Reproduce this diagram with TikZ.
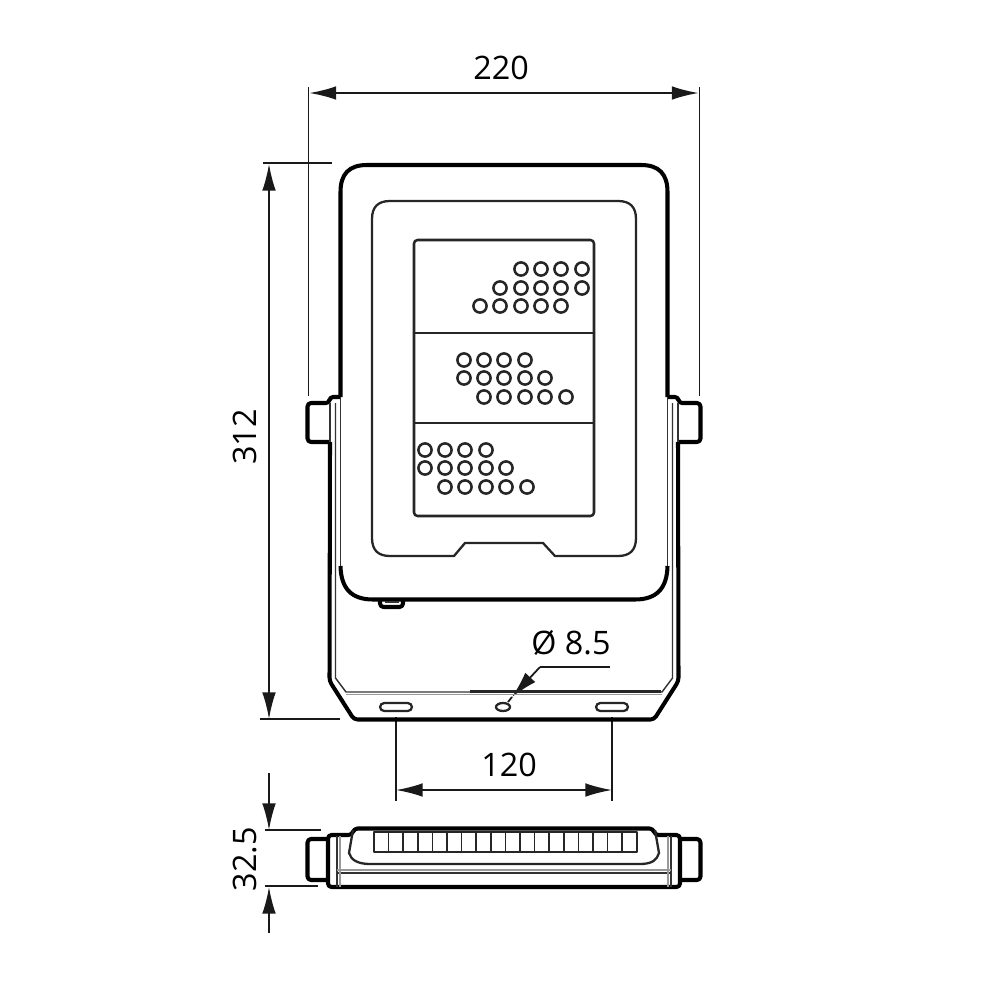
\documentclass[tikz,border=0pt]{standalone}
\usepackage{fontspec}
\setmainfont{Open Sans}
\usetikzlibrary{arrows.meta}
\tikzset{>={Latex[length=7.6pt,width=3.9pt]}}
\tikzset{
    heavy/.style={line width=1.15pt,line join=round,rounded corners=1pt},
    medium/.style={line width=0.65pt,draw=black!85,line join=round},
    fine/.style={line width=0.4pt,draw=black!80},
    dim/.style={line width=0.5pt,draw=black!90},
    led/.style={line width=0.72pt,draw=black!85,fill=white},
    dimtext/.style={font=\fontsize{9.2}{11}\selectfont,inner sep=0pt}
}
\begin{document}
\begin{tikzpicture}[x=0.01cm,y=-0.01cm]
    \useasboundingbox (0,0) rectangle (1000,1000);
    % dimension anchors
    \coordinate (wl) at (309.5,93);
    \coordinate (wr) at (698.5,93);
    \coordinate (wlt) at (308.5,87);
    \coordinate (wrt) at (699.5,87);
    \coordinate (wlb) at (308.5,396);
    \coordinate (wrb) at (699.5,396);
    \coordinate (ht) at (269,164);
    \coordinate (hb) at (269,719);
    \coordinate (htl) at (263,163);
    \coordinate (htr) at (332,163);
    \coordinate (hbl) at (260,719);
    \coordinate (hbr) at (340,719);
    \coordinate (sl) at (396,790);
    \coordinate (sr) at (612,790);
    \coordinate (slt) at (396,717);
    \coordinate (srt) at (612,717);
    \coordinate (slb) at (396,801);
    \coordinate (srb) at (612,801);
    \coordinate (dt) at (269,830);
    \coordinate (db) at (269,887);
    \coordinate (dts) at (269,773);
    \coordinate (dbs) at (269,933);
    \coordinate (dtl) at (265,830);
    \coordinate (dtr) at (321,830);
    \coordinate (dbl) at (265,886);
    \coordinate (dbr) at (318,886);
    \coordinate (lead) at (610,667);
    \coordinate (leadk) at (540,667);
    \coordinate (leadt) at (512,697);
    \coordinate (leade) at (508,702);

    \node[dimtext] (width) at (501,68) {220};
    \node[dimtext,rotate=90] (height) at (245,437) {312};
    \node[dimtext] (spacing) at (509,765) {120};
    \node[dimtext,rotate=90] (depth) at (245,859) {32.5};
    \node[dimtext] (bore) at (571,643) {Ø 8.5};

    \draw[dim] (wlt) -- (wlb);
    \draw[dim] (wrt) -- (wrb);
    \draw[dim] (htl) -- (htr);
    \draw[dim] (hbl) -- (hbr);
    \draw[dim] (slt) -- (slb);
    \draw[dim] (srt) -- (srb);
    \draw[dim] (dtl) -- (dtr);
    \draw[dim] (dbl) -- (dbr);
    \draw[dim,<->] (wl) -- (wr);
    \draw[dim,<->] (ht) -- (hb);
    \draw[dim,<->] (sl) -- (sr);
    \draw[dim,->] (dts) -- (dt);
    \draw[dim,->] (dbs) -- (db);
    \draw[dim] (lead) -- (leadk);
    \draw[dim,->] (leadk) -- (leadt);
    \draw[dim] (leadt) -- (leade);

    % front view, bracket
    \draw[heavy] (340.5,397) -- (329.5,397) -- (329.5,403) -- (307.5,403) -- (307.5,442) -- (330,442)
        (330,442) -- (329.5,681) -- (354,719.5) -- (654,719.5) -- (678.5,681) -- (678,442)
        (678,442) -- (700.5,442) -- (700.5,403) -- (678.5,403) -- (678.5,397) -- (667.5,397);
    \draw[fine] (335.5,403) -- (335.5,678) -- (346,692) -- (662,692) -- (672.5,678) -- (672.5,403);
    \draw[fine,draw=black!40] (346,694.5) -- (662,694.5);
    \draw[medium] (470,691.5) -- (661,691.5);
    \draw[fine] (330,403) -- (330,442) (678,403) -- (678,442);
    % front view, housing
    \draw[heavy,rounded corners=0pt]
        (340.5,397) -- (340.5,192) .. controls (340.5,174) and (349,165) .. (367,165)
        -- (641,165) .. controls (659,165) and (667.5,174) .. (667.5,192) -- (667.5,397);
    \draw[fine] (340.5,397) -- (340.5,566) (667.5,397) -- (667.5,566);
    \draw[heavy,rounded corners=0pt]
        (340.5,566) .. controls (341,588) and (351,599.5) .. (373,599.5) -- (635,599.5)
        .. controls (657,599.5) and (667,588) .. (667.5,566);
    \draw[heavy] (380,600) -- (380,607) -- (403,607) -- (403,600);
    \draw[fine] (385,602) -- (399,602);
    % front view, glass and optics
    \draw[medium] (390,201) -- (618,201) .. controls (630,201) and (636,207) .. (636,219) -- (636,538)
        .. controls (636,550) and (630,556) .. (618,556) -- (555,556) -- (543,543) -- (465,543)
        -- (454,556) -- (390,556) .. controls (378,556) and (372,550) .. (372,538) -- (372,219)
        .. controls (372,207) and (378,201) .. (390,201) -- cycle;
    \draw[medium,rounded corners=1pt,line width=0.72pt] (414,240) rectangle (594,516);
    \draw[medium,line width=0.72pt] (414,333) -- (594,333) (414,423) -- (594,423);
    \foreach \ledx/\ledy in {
        521/269,541/269,561/269,582/269,
        500/288,521/288,541/288,561/288,582/288,
        480/306,500/306,521/306,541/306,561/306,
        464/360,484/360,504/360,525/360,
        464/378,484/378,504/378,525/378,545/378,
        484/397,504/397,525/397,545/397,566/397,
        425/450,445/450,465/450,486/450,
        425/468,445/468,465/468,486/468,506/468,
        445/487,465/487,486/487,506/487,527/487}
        \draw[led] (\ledx,\ledy) circle (6.6);
    % mounting holes
    \foreach \holex in {396,612}
        \draw[medium,rounded corners=1.2pt] (\holex-16,703) rectangle (\holex+16,711);
    \draw[medium] (503,707) ellipse (7 and 4);
    % bottom view
    \draw[heavy] (328,835) -- (328,887) -- (680,887) -- (680,835) -- (655,835) -- (653,828.5) -- (354,828.5) -- (352,835) -- cycle;
    \draw[heavy] (328,839) -- (307.5,839) -- (307.5,880) -- (328,880);
    \draw[heavy] (680,839) -- (700.5,839) -- (700.5,880) -- (680,880);
    \draw[fine,line width=0.5pt] (337,836) -- (337,887) (671,836) -- (671,887) (337,873) -- (671,873);
    \draw[fine,draw=black!40] (340,836) -- (340,887) (668,836) -- (668,887) (337,870) -- (671,870);
    \draw[medium] (353,830) -- (349,853) .. controls (351,860) and (358,864) .. (370,864) -- (640,864)
        .. controls (652,864) and (657,860) .. (659,853) -- (655,830);
    \draw[medium] (374,832) rectangle (636.7,852);
    \foreach \cell in {1,...,17}
        \draw[medium,line width=0.5pt] ({374+\cell*14.6},832) -- ({374+\cell*14.6},852);
\end{tikzpicture}
\end{document}
